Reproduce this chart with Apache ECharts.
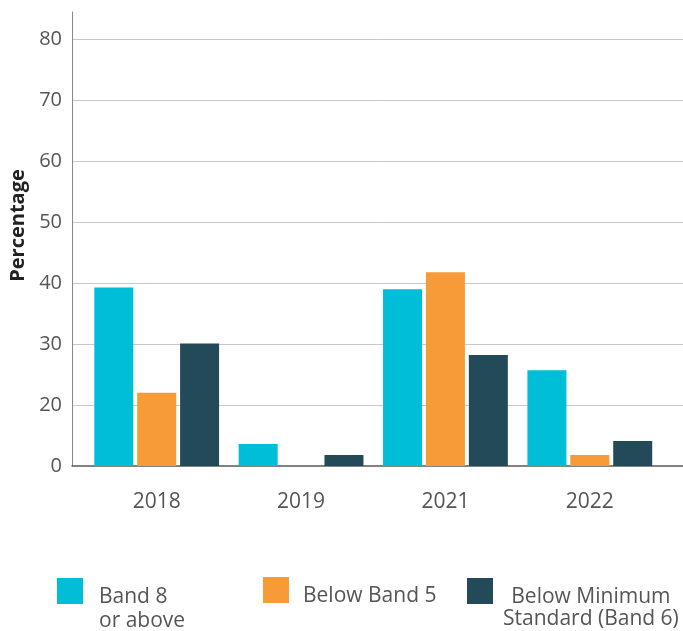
<!DOCTYPE html>
<html lang="en">
<head>
    <meta charset="UTF-8">
    <title>Bands</title>
    <script src="https://cdn.jsdelivr.net/npm/echarts@6/dist/echarts.min.js"></script>
    <style>
        html, body { margin: 0; padding: 0; background: #fff; }
    </style>
</head>
<body>
<div id="chart" style="width: 683px; height: 631px;"></div>
<script>
    // values read in axis units; the axis baseline sits at 10 but is labelled "0"
    var years = ['2018', '2019', '2021', '2022'];
    var band8 = [39.3, 13.6, 39.0, 25.7];
    var belowBand5 = [22.0, 10, 41.8, 11.8];
    var belowMin = [30.1, 11.8, 28.2, 14.1];
    var yTicks = [10, 20, 30, 40, 50, 60, 70, 80];

    var font = '"Open Sans", sans-serif';
    var myChart = echarts.init(document.getElementById('chart'));

    function legendAt(name, left, top, padTop, padLeft, lh, formatter) {
        return {
            data: [name],
            left: left,
            top: top,
            padding: 0,
            selectedMode: false,
            icon: 'rect',
            itemWidth: 26,
            itemHeight: 26,
            formatter: formatter,
            textStyle: {
                fontFamily: font,
                fontSize: 21,
                lineHeight: lh,
                color: '#555',
                padding: [padTop, 0, 0, padLeft],
                rich: {
                    c: { align: 'center', fontFamily: font, fontSize: 21, lineHeight: lh, color: '#555' }
                }
            }
        };
    }

    myChart.setOption({
        backgroundColor: '#ffffff',
        animation: false,
        grid: [
            { left: 70, right: 0, top: 12, bottom: 165 },
            { left: 84.5, right: 21, top: 12, bottom: 165 }
        ],
        legend: [
            legendAt('Band 8 or above', 57, 549, 36, 11, 24, function () { return 'Band 8\nor above'; }),
            legendAt('Below Band 5', 263, 573, 12, 9, 22, function (n) { return n; }),
            legendAt('Below Minimum Standard (Band 6)', 467, 552, 34, 5, 22, function () {
                return '{c|Below Minimum}\n{c|Standard (Band 6)}';
            })
        ],
        xAxis: [{
            gridIndex: 0,
            type: 'value',
            min: 0,
            max: 1,
            axisLine: { show: true, onZero: false, lineStyle: { color: '#5a5a5a', width: 1.5 } },
            axisTick: { show: false },
            axisLabel: { show: false },
            splitLine: { show: false }
        }, {
            gridIndex: 1,
            type: 'category',
            data: years,
            axisLine: { show: false },
            axisTick: { show: false },
            axisLabel: { margin: 26, fontFamily: font, fontSize: 21, color: '#555' }
        }],
        yAxis: [{
            gridIndex: 0,
            type: 'value',
            min: 10,
            max: 84.5,
            interval: 10,
            name: 'Percentage',
            nameLocation: 'middle',
            nameGap: 44,
            nameTextStyle: {
                fontFamily: font, fontSize: 20, fontWeight: 'bold', color: '#222',
                padding: [0, 0, 0, 27]
            },
            axisLine: { show: true, lineStyle: { color: '#888', width: 1 } },
            axisTick: { show: false },
            axisLabel: {
                margin: 10, fontFamily: font, fontSize: 20, color: '#555',
                formatter: function (v) {
                    if (yTicks.indexOf(v) < 0) return '';
                    return v === 10 ? '0' : String(v);
                }
            },
            splitLine: { show: true, showMinLine: false, showMaxLine: false, lineStyle: { color: '#c8c8c8', width: 1 } }
        }, {
            gridIndex: 1,
            type: 'value',
            min: 10,
            max: 84.5,
            interval: 10,
            show: false
        }],
        series: [{
            name: 'Band 8 or above',
            type: 'bar',
            xAxisIndex: 1,
            yAxisIndex: 1,
            barWidth: 39,
            barGap: '10%',
            itemStyle: { color: '#00bed7' },
            data: band8
        }, {
            name: 'Below Band 5',
            type: 'bar',
            xAxisIndex: 1,
            yAxisIndex: 1,
            barWidth: 39,
            barGap: '10%',
            itemStyle: { color: '#f79a38' },
            data: belowBand5
        }, {
            name: 'Below Minimum Standard (Band 6)',
            type: 'bar',
            xAxisIndex: 1,
            yAxisIndex: 1,
            barWidth: 39,
            barGap: '10%',
            itemStyle: { color: '#234a58' },
            data: belowMin
        }]
    });
</script>
</body>
</html>
